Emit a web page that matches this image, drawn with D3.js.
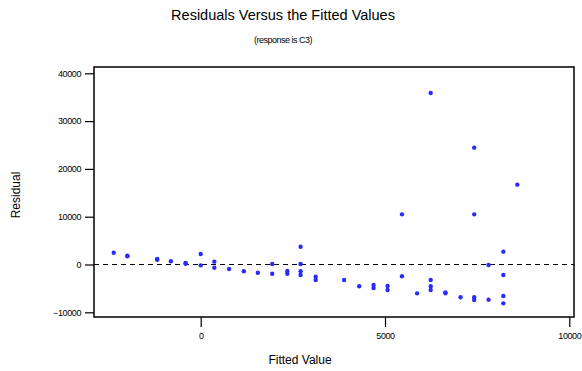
<!DOCTYPE html>
<html>
<head>
  <meta charset="utf-8">
  <title>Residuals Versus the Fitted Values</title>
  <script src="https://d3js.org/d3.v7.min.js"></script>
  <style>
    body { margin: 0; background: #fff; }
    text { font-family: "Liberation Sans", Arial, sans-serif; fill: #000; }
    .tick text { font-size: 9px; letter-spacing: -0.4px; }
  </style>
</head>
<body>
<svg id="chart"></svg>
<script>
  // fitted values and residuals
  const fitted = [
    -2360, -1990, -1990, -1180, -1180, -810, -410, -410, 0, 0,
    370, 370, 770, 1170, 1550, 1940, 1940, 2350, 2350, 2710,
    2710, 2710, 2710, 3120, 3120, 3890, 4300, 4690, 4690, 5070,
    5070, 5460, 5460, 5870, 6240, 6240, 6240, 6240, 6640, 6640,
    7050, 7420, 7420, 7420, 7420, 7810, 7810, 8210, 8210, 8210,
    8210, 8590
  ];
  const residual = [
    2470, 1840, 1700, 1000, 1150, 670, 320, 150, 2200, -170,
    590, -670, -940, -1420, -1720, 100, -1930, -1360, -1930, 3720,
    100, -1420, -2200, -2550, -3240, -3240, -4560, -4290, -4920, -4500,
    -5340, 10500, -2470, -6030, 35880, -3240, -4560, -5340, -5820, -6030,
    -6860, 24440, 10500, -6860, -7430, -110, -7360, 2680, -2200, -6590,
    -8120, 16700
  ];
  const xTicks = [0, 5000, 10000];
  const yTicks = [-10000, 0, 10000, 20000, 30000, 40000];

  const W = 582, H = 371;
  const frameL = 94, frameR = 574, frameT = 67, frameB = 317;

  const svg = d3.select("#chart").attr("width", W).attr("height", H);

  const x = d3.scaleLinear().domain([0, 10000]).range([200.7, 569.3]);
  const y = d3.scaleLinear().domain([-10000, 40000]).range([312.3, 73.3]);

  // y axis
  svg.append("g")
    .attr("transform", `translate(${frameL},0)`)
    .call(d3.axisLeft(y).tickValues(yTicks).tickSize(9).tickPadding(4).tickFormat(d3.format("d")))
    .call(g => g.select(".domain").remove())
    .call(g => g.selectAll("line").attr("stroke", "#000").attr("stroke-width", 1.2));

  // x axis
  svg.append("g")
    .attr("transform", `translate(0,${frameB})`)
    .call(d3.axisBottom(x).tickValues(xTicks).tickSize(10).tickPadding(6).tickFormat(d3.format("d")))
    .call(g => g.select(".domain").remove())
    .call(g => g.selectAll("line").attr("stroke", "#000").attr("stroke-width", 1.2));

  // frame
  svg.append("rect")
    .attr("x", frameL).attr("y", frameT)
    .attr("width", frameR - frameL).attr("height", frameB - frameT)
    .attr("fill", "none").attr("stroke", "#000").attr("stroke-width", 1.5);

  // reference line at 0
  svg.append("line")
    .attr("x1", frameL).attr("x2", frameR)
    .attr("y1", y(0)).attr("y2", y(0))
    .attr("stroke", "#000").attr("stroke-width", 1.2)
    .attr("stroke-dasharray", "5,4");

  // points
  svg.append("g").selectAll("path")
    .data(fitted.map((f, i) => [f, residual[i]]))
    .join("path")
    .attr("d", d3.symbol(d3.symbolCircle, 15))
    .attr("transform", d => `translate(${x(d[0])},${y(d[1])})`)
    .attr("fill", "#2a2aff");

  // titles
  svg.append("text")
    .attr("x", 283).attr("y", 20)
    .attr("text-anchor", "middle")
    .style("font-size", "14.5px")
    .text("Residuals Versus the Fitted Values");

  svg.append("text")
    .attr("x", 283).attr("y", 43)
    .attr("text-anchor", "middle")
    .style("font-size", "9px")
    .style("letter-spacing", "-0.5px")
    .text("(response is C3)");

  svg.append("text")
    .attr("x", 300).attr("y", 364)
    .attr("text-anchor", "middle")
    .style("font-size", "12px")
    .text("Fitted Value");

  svg.append("text")
    .attr("transform", "translate(20,195) rotate(-90)")
    .attr("text-anchor", "middle")
    .style("font-size", "12px")
    .text("Residual");
</script>
</body>
</html>
